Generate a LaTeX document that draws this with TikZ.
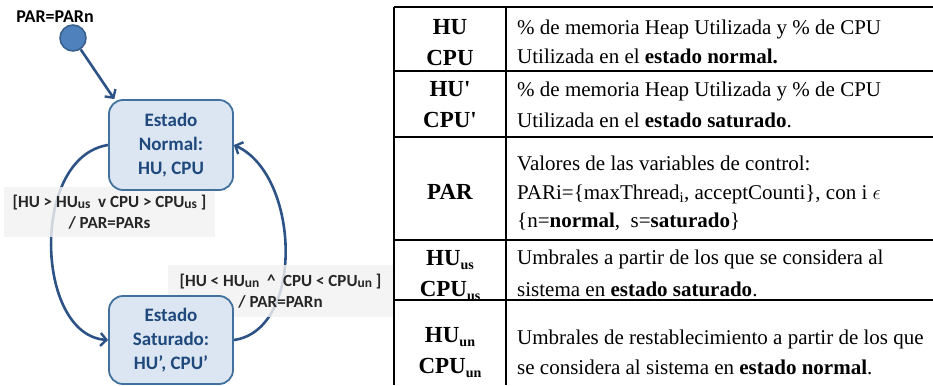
\documentclass[tikz,border=0pt]{standalone}
\usepackage{fontspec}
\setmainfont{Liberation Serif}
\newfontfamily\calfont{Carlito}
\usetikzlibrary{arrows.meta}
\pgfdeclarelayer{background}
\pgfsetlayers{background,main}
\definecolor{boxfill}{HTML}{DCE6F2}
\definecolor{boxline}{HTML}{41719C}
\definecolor{boxtext}{HTML}{1F497D}
\definecolor{conncol}{HTML}{2C5286}
\definecolor{circfill}{HTML}{4F81BD}
\definecolor{circline}{HTML}{385D8A}
\definecolor{lblfill}{HTML}{F2F2F2}
\definecolor{lbltext}{HTML}{262626}
\newcommand{\ssub}[1]{\raisebox{-1pt}{\fontsize{13.5}{13.5}\selectfont #1}}
\newcommand{\tsub}[1]{\raisebox{-4pt}{\fontsize{14}{14}\selectfont #1}}
\begin{document}
\begin{tikzpicture}[x=1pt,y=-1pt,
  statebox/.style={draw=boxline, line width=1.8pt, fill=boxfill, rounded corners=14pt,
    align=center, text=boxtext, font=\calfont\bfseries\fontsize{19}{24}\selectfont,
    minimum width=124pt, inner sep=0pt},
  connector/.style={draw=conncol, line width=2.6pt,
    -{Straight Barb[length=6pt,width=13pt,line width=2.4pt]}},
  lbl/.style={fill=lblfill, fill opacity=0.82, text opacity=1, text=lbltext,
    font=\calfont\bfseries\fontsize{17}{21}\selectfont, align=center, inner sep=0pt},
  tbl/.style={line width=1.4pt, black},
  tlab/.style={font=\bfseries\fontsize{23}{31}\selectfont, align=center, inner sep=0pt},
  ttext/.style={anchor=base west, font=\fontsize{21}{29}\selectfont, inner sep=0pt}]
\useasboundingbox (0,0) rectangle (933,385);

% ---- state diagram ----
\node[font=\calfont\bfseries\fontsize{18}{20}\selectfont, text=black] (partop) at (55,17) {PAR=PARn};
\node[circle, fill=circfill, draw=circline, line width=1.5pt, minimum size=26pt, inner sep=0pt] (init) at (73,38) {};
\node[statebox, minimum height=90pt] (normal) at (171,145) {Estado\\Normal:\\HU, CPU};
\node[statebox, minimum height=88pt] (sat) at (171,340) {Estado\\Saturado:\\HU’, CPU’};

\draw[connector] (init) -- (normal.141);

\begin{pgfonlayer}{background}
\draw[connector] (normal.west) .. controls (30,157) and (35,335) .. (sat.west);
\draw[connector] (sat.east) .. controls (305,330) and (300,175) .. (normal.east);
\node[lbl, minimum width=211pt, minimum height=50pt] (lab1) at (109.5,212)
  {[HU > HU\ssub{us}\ \ v CPU > CPU\ssub{us} ]\\/ PAR=PARs};
\node[lbl, minimum width=225pt, minimum height=52pt] (lab2) at (280.5,291)
  {[HU < HU\ssub{un}\ \ \textasciicircum\ \ CPU < CPU\ssub{un} ]\\/ PAR=PARn};
\end{pgfonlayer}

% ---- table ----
\draw[tbl] (394,7) -- (933,7);
\draw[tbl] (394,71) -- (933,71);
\draw[tbl] (394,137) -- (933,137);
\draw[tbl] (394,240) -- (933,240);
\draw[tbl] (394,300) -- (933,300);
\draw[tbl] (394,7) -- (394,385);
\draw[tbl] (506,7) -- (506,385);

\node[tlab] (k1) at (450,42.5) {HU\\CPU};
\node[tlab] (k2) at (450,105) {HU\textquotesingle\\CPU\textquotesingle};
\node[tlab] (k3) at (450,192) {PAR};
\node[tlab] (k4) at (450,276) {HU\tsub{us}\\CPU\tsub{us}};
\node[tlab] (k5) at (450,353) {HU\tsub{un}\\CPU\tsub{un}};

\node[ttext] (d1a) at (517,35) {\% de memoria Heap Utilizada y \% de CPU};
\node[ttext] (d1b) at (517,64) {Utilizada en el \textbf{estado normal.}};
\node[ttext] (d2a) at (517,97) {\% de memoria Heap Utilizada y \% de CPU};
\node[ttext] (d2b) at (517,127) {Utilizada en el \textbf{estado saturado}.};
\node[ttext] (d3a) at (517,170) {Valores de las variables de control:};
\node[ttext] (d3b) at (517,199) {PARi=\{maxThread\textsubscript{i}, acceptCounti\}, con i $\epsilon$};
\node[ttext] (d3c) at (517,227) {\{n=\textbf{normal},\ \ s=\textbf{saturado}\}};
\node[ttext] (d4a) at (517,264) {Umbrales a partir de los que se considera al};
\node[ttext] (d4b) at (517,296) {sistema en \textbf{estado saturado}.};
\node[ttext] (d5a) at (517,344) {Umbrales de restablecimiento a partir de los que};
\node[ttext] (d5b) at (517,374) {se considera al sistema en \textbf{estado normal}.};
\end{tikzpicture}
\end{document}
